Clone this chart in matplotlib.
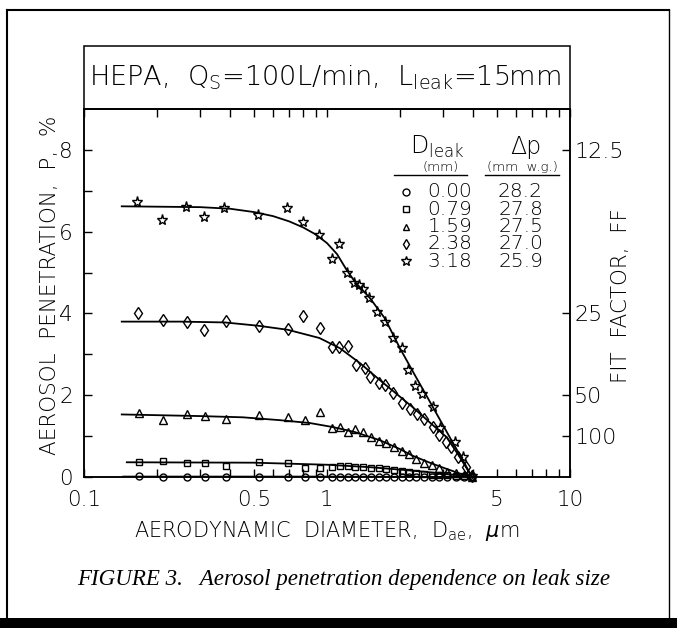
import matplotlib
matplotlib.use("Agg")
import matplotlib.pyplot as plt
from matplotlib.patches import Rectangle
from matplotlib.ticker import FixedLocator, NullFormatter

plt.rcParams['font.family'] = ['DejaVu Sans']
plt.rcParams['font.weight'] = 'light'
plt.rcParams['axes.labelweight'] = 'light'
plt.rcParams['mathtext.fontset'] = 'dejavusans'

# ---- data ----
# leak 0.00 mm (circles)
x_c = [0.168, 0.211, 0.265, 0.315, 0.385, 0.525, 0.69, 0.81, 0.935, 1.05, 1.13, 1.22, 1.31, 1.41,
       1.52, 1.63, 1.75, 1.88, 2.03, 2.17, 2.33, 2.50, 2.70, 2.90, 3.12, 3.38, 3.65, 3.95]
y_c = [0.02, -0.01, -0.01, -0.01, -0.01, -0.01, -0.01, 0.0, 0.0, 0.01, 0.0, 0.01, 0.0, 0.0,
       0.0, 0.01, 0.0, 0.0, 0.0, 0.0, 0.0, 0.0, 0.0, 0.0, 0.0, 0.0, 0.0, 0.0]
# leak 0.79 mm (squares)
x_s = x_c
y_s = [0.37, 0.39, 0.35, 0.35, 0.27, 0.36, 0.35, 0.22, 0.22, 0.24, 0.27, 0.27, 0.25, 0.25,
       0.23, 0.21, 0.19, 0.17, 0.15, 0.13, 0.10, 0.08, 0.06, 0.05, 0.04, 0.03, 0.02, 0.0]
# leak 1.59 mm (triangles)
x_t = x_c
y_t = [1.57, 1.39, 1.54, 1.49, 1.42, 1.52, 1.47, 1.40, 1.59, 1.21, 1.22, 1.10, 1.17, 1.10,
       0.98, 0.88, 0.83, 0.74, 0.64, 0.56, 0.44, 0.35, 0.29, 0.22, 0.13, 0.09, 0.05, 0.0]
# leak 2.38 mm (diamonds)
x_d = [0.167, 0.211, 0.265, 0.312, 0.384, 0.525, 0.69, 0.80, 0.935, 1.05, 1.12, 1.22, 1.32, 1.43,
       1.50, 1.63, 1.74, 1.87, 2.03, 2.20, 2.34, 2.50, 2.72, 2.88, 3.10, 3.24, 3.45, 3.75, 3.95]
y_d = [4.01, 3.84, 3.79, 3.60, 3.82, 3.69, 3.62, 3.94, 3.64, 3.18, 3.18, 3.20, 2.73, 2.67,
       2.45, 2.30, 2.25, 2.05, 1.81, 1.66, 1.55, 1.42, 1.22, 1.02, 0.86, 0.74, 0.50, 0.25, 0.02]
# leak 3.18 mm (stars)
x_st = [0.165, 0.209, 0.263, 0.312, 0.377, 0.52, 0.684, 0.796, 0.927, 1.05, 1.12, 1.21, 1.29, 1.35,
        1.40, 1.49, 1.61, 1.73, 1.87, 2.03, 2.16, 2.31, 2.47, 2.72, 2.92, 3.35, 3.63, 3.94]
y_st = [6.73, 6.29, 6.60, 6.36, 6.58, 6.41, 6.58, 6.24, 5.92, 5.33, 5.70, 4.98, 4.74, 4.70,
        4.60, 4.38, 4.03, 3.80, 3.39, 3.15, 2.62, 2.23, 2.02, 1.71, 1.20, 0.86, 0.49, 0.02]

# fitted curves
fit_c_x = [0.145, 1.0, 3.95]
fit_c_y = [0.01, 0.01, 0.0]
fit_s_x = [0.15, 0.5, 1.0, 1.5, 2.0, 2.5, 3.0, 3.5, 3.95]
fit_s_y = [0.36, 0.35, 0.30, 0.24, 0.18, 0.13, 0.08, 0.04, 0.0]
fit_t_x = [0.143, 0.30, 0.45, 0.64, 0.85, 1.06, 1.30, 1.65, 2.00, 2.25, 2.70, 3.10, 3.50, 3.95]
fit_t_y = [1.53, 1.49, 1.46, 1.39, 1.32, 1.22, 1.10, 0.90, 0.68, 0.52, 0.33, 0.20, 0.09, 0.0]
fit_d_x = [0.143, 0.25, 0.38, 0.52, 0.69, 0.93, 1.13, 1.37, 1.65, 2.00, 2.25, 2.70, 3.10, 3.50, 3.95]
fit_d_y = [3.80, 3.80, 3.78, 3.70, 3.60, 3.40, 3.15, 2.78, 2.37, 1.96, 1.71, 1.29, 0.98, 0.51, 0.0]
fit_st_x = [0.143, 0.30, 0.40, 0.50, 0.60, 0.70, 0.80, 0.90, 1.00, 1.10, 1.20, 1.30, 1.50, 1.73,
            2.00, 2.30, 2.60, 3.00, 3.30, 3.60, 3.95]
fit_st_y = [6.62, 6.60, 6.56, 6.48, 6.38, 6.25, 6.10, 5.93, 5.72, 5.45, 5.08, 4.78, 4.38, 3.88,
            3.14, 2.49, 1.93, 1.27, 0.83, 0.44, 0.0]

leak_d = ["0.00", "0.79", "1.59", "2.38", "3.18"]
leak_dp = ["28.2", "27.8", "27.5", "27.0", "25.9"]
ff_ticks = [12.5, 25, 50, 100]

W, H = 677, 628
def fx(px):
    return px / W
def fy(py):
    return 1 - py / H

fig = plt.figure(figsize=(W / 100, H / 100), dpi=100)
ax = fig.add_axes([fx(84), fy(477), (570 - 84) / W, (477 - 109) / H])

series = [
    (x_c, y_c, fit_c_x, fit_c_y, 'o', 5.0),
    (x_s, y_s, fit_s_x, fit_s_y, 's', 5.0),
    (x_t, y_t, fit_t_x, fit_t_y, '^', 5.5),
    (x_d, y_d, fit_d_x, fit_d_y, 'd', 6.0),
    (x_st, y_st, fit_st_x, fit_st_y, '*', 8.0),
]
for xs, ys, fxs, fys, mk, ms in series:
    ax.plot(fxs, fys, '-', color='black', lw=1.3, zorder=3)
    ax.plot(xs, ys, linestyle='none', marker=mk, ms=ms, mfc='none', mec='black',
            mew=1.0, clip_on=False, zorder=4)

ax.set_xscale('log')
ax.set_xlim(0.1, 10)
ax.set_ylim(0, 9)
ax.xaxis.set_major_locator(FixedLocator([0.1, 0.5, 1, 5, 10]))
ax.set_xticklabels(['0.1', '0.5', '1', '5', '10'])
ax.xaxis.set_minor_locator(FixedLocator([0.2, 0.3, 0.4, 0.6, 0.7, 0.8, 0.9,
                                         2, 3, 4, 6, 7, 8, 9]))
ax.xaxis.set_minor_formatter(NullFormatter())
ax.set_yticks([0, 2, 4, 6, 8])
ax.set_yticks([1, 3, 5, 7], minor=True)
ax.tick_params(which='both', direction='in', top=True, right=False, length=6,
               width=1, labelsize=15.5, pad=8)
ax.tick_params(axis='x', which='both', pad=9)

ax2 = ax.twinx()
ax2.set_ylim(0, 9)
ax2.set_yticks([100 / f for f in ff_ticks])
ax2.set_yticklabels([('%g' % f) for f in ff_ticks])
ax2.tick_params(direction='in', length=6, width=1, labelsize=16, pad=3)

for a in (ax, ax2):
    for s in a.spines.values():
        s.set_linewidth(1.1)

ax.set_xlabel('AERODYNAMIC  DIAMETER,  D$_{\\mathregular{ae}}$,  $\\mu$m', fontsize=15,
              labelpad=7)
fig.text(fx(50), fy(285), 'AEROSOL  PENETRATION,  P,  %', rotation=90, fontsize=15.5,
         ha='center', va='center')
fig.text(fx(621), fy(296), 'FIT  FACTOR,  FF', rotation=90, fontsize=15.5,
         ha='center', va='center')

# title box
fig.patches.append(Rectangle((fx(84), fy(109)), (570 - 84) / W, (109 - 46) / H,
                             transform=fig.transFigure, fill=False, lw=1.1, ec='black'))
fig.text(fx(325), fy(78), 'HEPA,  Q$_{\\mathregular{S}}$=100L/min,  L$_{\\mathregular{leak}}$=15mm',
         fontsize=19.5, ha='center', va='center')

# key
fig.text(fx(437), fy(147), 'D$_{\\mathregular{leak}}$', fontsize=17, ha='center', va='center')
fig.text(fx(526), fy(147), '\u0394p', fontsize=17, ha='center', va='center')
fig.text(fx(441), fy(167), '(mm)', fontsize=9.5, ha='center', va='center')
fig.text(fx(522), fy(167), '(mm  w.g.)', fontsize=9.5, ha='center', va='center')
fig.add_artist(plt.Line2D([fx(394), fx(467)], [fy(175), fy(175)], color='black', lw=1))
fig.add_artist(plt.Line2D([fx(485), fx(559)], [fy(175), fy(175)], color='black', lw=1))
key_marks = ['o', 's', '^', 'd', '*']
key_sizes = [5.0, 5.0, 5.0, 5.5, 7.0]
for i in range(5):
    yy = fy(192 + 17.3 * i)
    fig.add_artist(plt.Line2D([fx(406)], [yy], marker=key_marks[i], ms=key_sizes[i],
                              mfc='none', mec='black', mew=1.0, linestyle='none'))
    fig.text(fx(472), yy, leak_d[i], fontsize=14.5, ha='right', va='center')
    fig.text(fx(543), yy, leak_dp[i], fontsize=14.5, ha='right', va='center')

# caption
fig.text(fx(77), fy(580), 'FIGURE 3.   Aerosol penetration dependence on leak size',
         family='Liberation Serif', style='italic', fontsize=16.6, ha='left', va='center')

# outer frame
fig.add_artist(plt.Line2D([fx(7), fx(7)], [fy(10), fy(620)], color='black', lw=1.5))
fig.add_artist(plt.Line2D([fx(669), fx(669)], [fy(10), fy(620)], color='black', lw=1.0))
fig.add_artist(plt.Line2D([fx(7), fx(669)], [fy(10), fy(10)], color='black', lw=1.5))
fig.patches.append(Rectangle((0, 0), 1, fy(618), transform=fig.transFigure,
                             color='black', lw=0))

fig.savefig('out.png', dpi=100)
